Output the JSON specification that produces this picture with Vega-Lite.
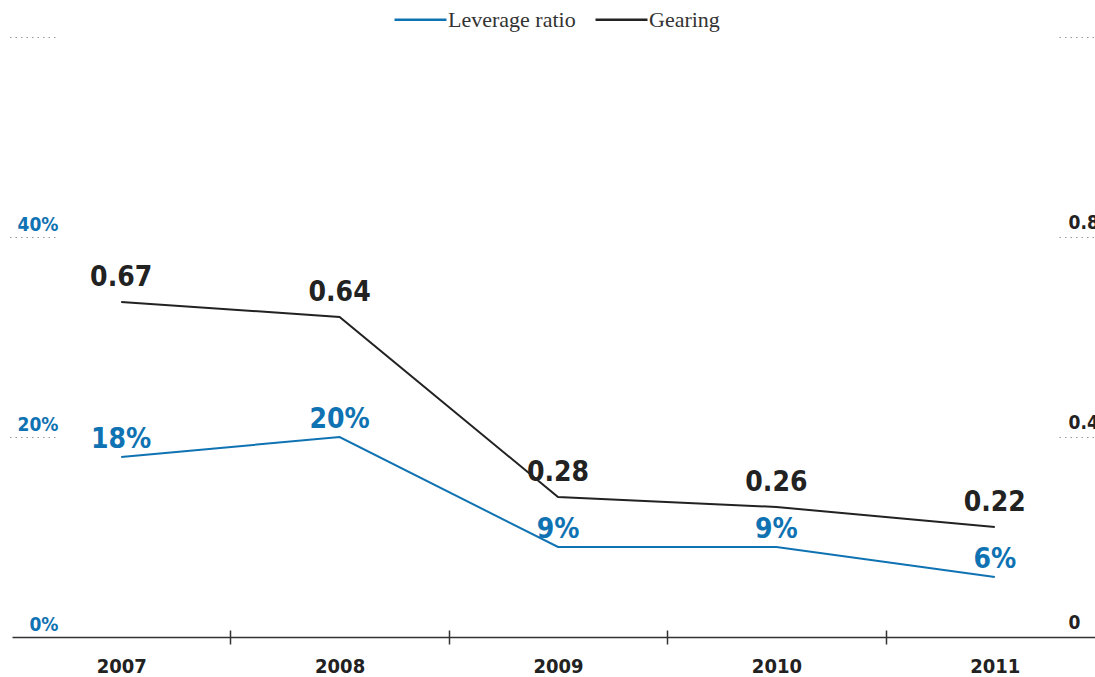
{
  "$schema": "https://vega.github.io/schema/vega-lite/v6.json",
  "width": 1092,
  "height": 600,
  "autosize": {"type": "none"},
  "padding": {"left": 12, "top": 37, "right": 0, "bottom": 40},
  "background": "white",
  "config": {"view": {"stroke": null}},
  "data": {
    "values": [
      {"year": 2007, "leverage": 0.18, "gearing": 0.67},
      {"year": 2008, "leverage": 0.20, "gearing": 0.64},
      {"year": 2009, "leverage": 0.09, "gearing": 0.28},
      {"year": 2010, "leverage": 0.09, "gearing": 0.26},
      {"year": 2011, "leverage": 0.06, "gearing": 0.22}
    ]
  },
  "encoding": {
    "x": {"field": "year", "type": "quantitative", "scale": {"domain": [2006.5, 2011.5], "nice": false, "zero": false}}
  },
  "layer": [
    {
      "encoding": {
        "x": {"field": "year", "type": "quantitative",
          "axis": {"orient": "bottom", "values": [2007.5, 2008.5, 2009.5, 2010.5], "labels": false, "domain": false, "grid": false, "tickSize": 14, "offset": -7, "tickColor": "#333", "tickWidth": 1.5, "title": null}},
        "y": {"field": "leverage", "type": "quantitative", "scale": {"domain": [0, 0.6], "nice": false},
          "axis": {"orient": "left", "offset": -43, "values": [0, 0.2, 0.4, 0.6], "labelExpr": "datum.value > 0.5 ? '' : format(datum.value, '.0%')", "domain": false, "grid": false, "tickSize": 46, "tickDash": [1.5, 4], "tickColor": "#999", "tickWidth": 1, "tickOpacity": {"condition": {"test": "datum.value === 0", "value": 0}, "value": 1}, "labelAlign": "right", "labelPadding": -49, "labelBaseline": "alphabetic", "labelOffset": -7, "labelFont": "DejaVu Sans Condensed", "labelFontWeight": "bold", "labelFontSize": 19, "labelColor": "#0f72b2", "title": null}}
      },
      "layer": [
        {"mark": {"type": "line", "strokeWidth": 2},
          "encoding": {"color": {"datum": "Leverage ratio", "type": "nominal",
            "scale": {"domain": ["Leverage ratio", "Gearing"], "range": ["#0f72b2", "#222222"]},
            "legend": {"orient": "none", "legendX": 381, "legendY": -45, "direction": "horizontal", "title": null, "symbolType": "stroke", "symbolSize": 2700, "symbolStrokeWidth": 2.5, "labelFont": "Liberation Serif", "labelFontSize": 22, "labelColor": "#333", "labelOffset": 0, "columnPadding": 14}}}},
        {"mark": {"type": "text", "dy": -9, "baseline": "alphabetic", "align": "center", "font": "DejaVu Sans Condensed", "fontWeight": "bold", "fontSize": 28, "color": "#0f72b2"},
          "encoding": {"text": {"field": "leverage", "type": "quantitative", "format": ".0%"}}}
      ]
    },
    {
      "encoding": {
        "x": {"field": "year", "type": "quantitative",
          "axis": {"orient": "bottom", "values": [2007, 2008, 2009, 2010, 2011], "format": "d", "ticks": false, "tickSize": 0, "domain": true, "domainColor": "#333", "domainWidth": 1.5, "grid": false, "labelPadding": 19, "labelFont": "DejaVu Sans Condensed", "labelFontWeight": "bold", "labelFontSize": 20, "labelColor": "#222", "title": null}},
        "y": {"field": "gearing", "type": "quantitative", "scale": {"domain": [0, 1.2], "nice": false},
          "axis": {"orient": "right", "offset": -45, "values": [0, 0.4, 0.8, 1.2], "labelExpr": "datum.value > 1 ? '' : (datum.value === 0 ? '0' : format(datum.value, '.1f'))", "domain": false, "grid": false, "tickSize": 46, "tickDash": [1.5, 4], "tickColor": "#999", "tickWidth": 1, "tickOpacity": {"condition": {"test": "datum.value === 0", "value": 0}, "value": 1}, "labelAlign": "left", "labelPadding": -37, "labelBaseline": "alphabetic", "labelOffset": -9, "labelFont": "DejaVu Sans Condensed", "labelFontWeight": "bold", "labelFontSize": 19, "labelColor": "#222", "title": null}}
      },
      "layer": [
        {"mark": {"type": "line", "strokeWidth": 2}, "encoding": {"color": {"datum": "Gearing", "type": "nominal"}}},
        {"mark": {"type": "text", "dy": -16, "baseline": "alphabetic", "align": "center", "font": "DejaVu Sans Condensed", "fontWeight": "bold", "fontSize": 28, "color": "#222"},
          "encoding": {"text": {"field": "gearing", "type": "quantitative", "format": ".2f"}}}
      ]
    }
  ],
  "resolve": {"scale": {"y": "independent"}, "axis": {"x": "independent", "y": "independent"}}
}
